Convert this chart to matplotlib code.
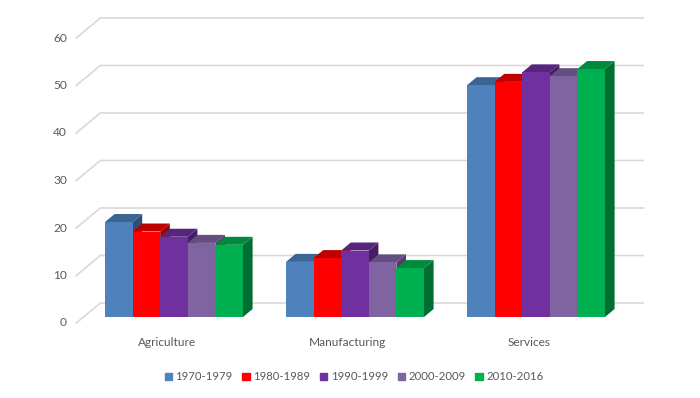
import matplotlib.pyplot as plt
from matplotlib.patches import Patch

categories = ["Agriculture", "Manufacturing", "Services"]
periods = ["1970-1979", "1980-1989", "1990-1999", "2000-2009", "2010-2016"]
v_1970s = [20.0, 11.6, 48.8]
v_1980s = [18.0, 12.4, 49.5]
v_1990s = [16.9, 14.0, 51.5]
v_2000s = [15.6, 11.5, 50.7]
v_2010s = [15.2, 10.3, 52.2]
yticks = [0, 10, 20, 30, 40, 50, 60]

series = [v_1970s, v_1980s, v_1990s, v_2000s, v_2010s]
front_colors = ["#4F81BD", "#FF0000", "#7030A0", "#8064A2", "#00B050"]
top_colors = ["#3D6594", "#C00000", "#56257D", "#644E7F", "#008A3D"]
side_colors = ["#2F4F74", "#A00000", "#441D63", "#4F3E65", "#006F31"]

# pixel scale of the fake 3d view
PX_X = 181.0   # px per category
PX_Y = 4.75    # px per value unit
W = 0.1525     # bar width


def shift(x, y, d):
    # move a point d px back in depth (up and to the right)
    return x + 1.2 * d / PX_X, y + d / PX_Y


fig = plt.figure(figsize=(7, 3.98), dpi=100)
ax = fig.add_axes([0, 0, 1, 1])
ax.set_xlim(-174 / PX_X, (700 - 174) / PX_X)
ax.set_ylim((317 - 398) / PX_Y, 317 / PX_Y)
ax.axis("off")

font = dict(family=["Lato", "DejaVu Sans"], color="#595959", fontsize=8.6)

# back wall gridlines and the slanted left wall
grid_col = "#D9D9D9"
for t in yticks:
    x0, y0 = shift(-0.5, t, -6)
    x1, y1 = shift(-0.5, t, 14)
    x2, y2 = shift(2.5, t, 14)
    ax.plot([x0, x1, x2], [y0, y1, y2], color=grid_col, lw=1.2, zorder=1)
    lx = (67 - 174) / PX_X
    ax.text(lx, y0, str(t), ha="right", va="center", **font)

# bars: side, top, then front, left to right
dx, dy = shift(0, 0, 8)
z = 2
for i, cat in enumerate(categories):
    for j, vals in enumerate(series):
        x = i - 2.5 * W + j * W
        v = vals[i]
        ax.fill([x + W, x + W + dx, x + W + dx, x + W], [0, dy, v + dy, v],
                color=side_colors[j], lw=0, zorder=z)
        ax.fill([x, x + W, x + W + dx, x + dx], [v, v, v + dy, v + dy],
                color=top_colors[j], lw=0, zorder=z)
        ax.bar(x, v, width=W, align="edge", color=front_colors[j], lw=0, zorder=z)
        z += 1
    cx, cy = shift(i, 0, -6)
    ax.text(cx, cy - 19 / PX_Y, cat, ha="center", va="center", **font)

handles = [Patch(color=c) for c in front_colors]
fig.legend(handles, periods, loc="center", bbox_to_anchor=(354 / 700, 1 - 377 / 398),
           ncol=5, frameon=False, handlelength=0.65, handleheight=0.65,
           handletextpad=0.3, columnspacing=0.85,
           prop={"family": ["Lato", "DejaVu Sans"], "size": 8.2}, labelcolor="#595959")

fig.savefig("out.png", dpi=100)
